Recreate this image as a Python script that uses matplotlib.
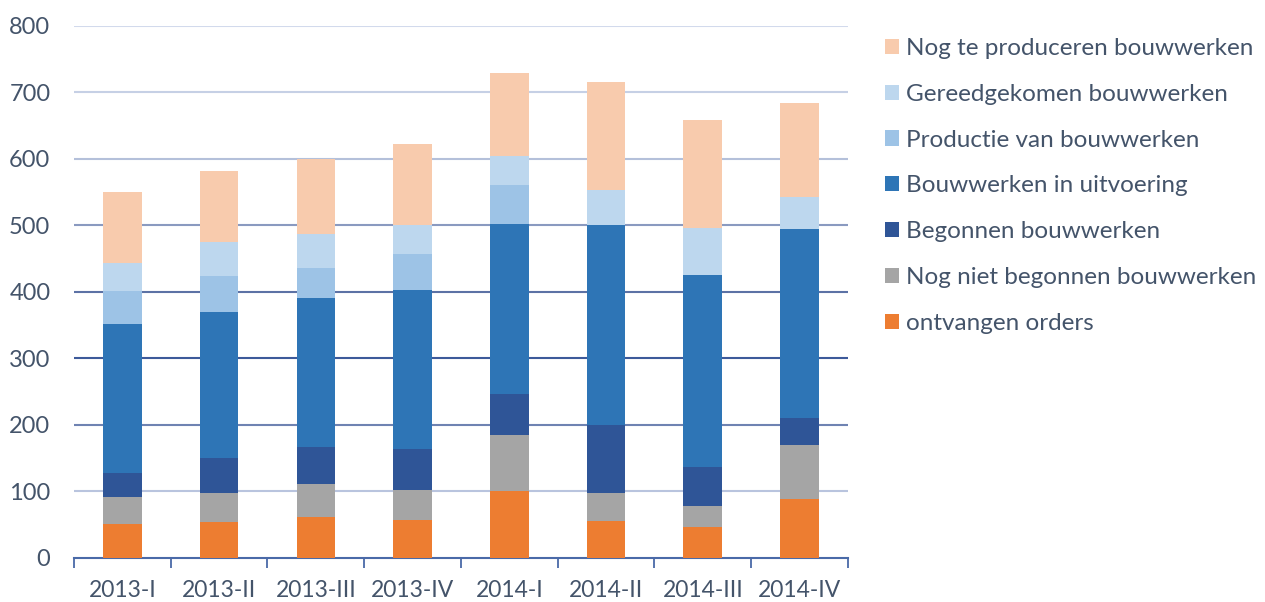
import matplotlib
matplotlib.use("Agg")
import matplotlib.pyplot as plt
import numpy as np

INK = "#44546A"
plt.rcParams.update({"font.family": ["Lato", "DejaVu Sans"], "text.color": INK,
                     "xtick.color": INK, "ytick.color": INK})

quarters = ["2013-I", "2013-II", "2013-III", "2013-IV", "2014-I", "2014-II", "2014-III", "2014-IV"]
series = ["ontvangen orders", "Nog niet begonnen bouwwerken", "Begonnen bouwwerken",
          "Bouwwerken in uitvoering", "Productie van bouwwerken", "Gereedgekomen bouwwerken",
          "Nog te produceren bouwwerken"]
ontvangen = [50, 54, 61, 56, 100, 55, 46, 88]
niet_begonnen = [42, 44, 50, 46, 84, 43, 32, 81]
begonnen = [35, 52, 56, 62, 62, 101, 58, 41]
uitvoering = [225, 220, 224, 239, 256, 302, 289, 285]
productie = [49, 54, 44, 54, 58, 0, 0, 0]
gereed = [42, 51, 52, 44, 44, 52, 71, 47]
te_produceren = [107, 107, 113, 121, 125, 162, 162, 142]
values = [ontvangen, niet_begonnen, begonnen, uitvoering, productie, gereed, te_produceren]
colors = ["#ED7D31", "#A5A5A5", "#2F5597", "#2E75B6", "#9DC3E6", "#BDD7EE", "#F8CBAD"]

yticks = [0, 100, 200, 300, 400, 500, 600, 700, 800]
grid_cols = {100: "#B9C4DE", 200: "#6F83B2", 300: "#3D5A9A", 400: "#5C72A5",
             500: "#8A9AC0", 600: "#B4C0DA", 700: "#C6D0E5", 800: "#D2DAEC"}

fig = plt.figure(figsize=(12.65, 6.02), dpi=100)
ax = fig.add_axes([0.0585, 0.0736, 0.6118, 0.8837])

x = np.arange(len(quarters))
bottom = np.zeros(len(quarters))
bars = []
for name, vals, c in zip(series, values, colors):
    b = ax.bar(x, vals, width=0.4, bottom=bottom, color=c, label=name, zorder=3)
    bars.append(b)
    bottom += np.array(vals)

ax.set_xlim(-0.5, len(quarters) - 0.5)
ax.set_ylim(0, 800)
ax.set_yticks(yticks)
ax.tick_params(axis="y", length=0, pad=17, labelsize=17)
for yv in yticks[1:]:
    ax.axhline(yv, color=grid_cols[yv], lw=1.5, zorder=1)

ax.set_xticks(x)
ax.set_xticklabels(quarters, fontsize=16.5)
ax.tick_params(axis="x", length=0, pad=16)
ax.set_xticks(np.arange(-0.5, len(quarters)), minor=True)
ax.tick_params(axis="x", which="minor", length=7, width=1.3, color="#4A6AA8")

for s in ["top", "right", "left"]:
    ax.spines[s].set_visible(False)
ax.spines["bottom"].set_color("#4A6AA8")
ax.spines["bottom"].set_linewidth(1.5)

handles = bars[::-1]
labels = series[::-1]
fig.legend(handles, labels, loc="upper left", bbox_to_anchor=(0.692, 0.953),
           frameon=False, fontsize=17.5, handlelength=0.58, handleheight=0.58,
           handletextpad=0.28, labelspacing=1.02, borderaxespad=0)

fig.savefig("out.png", facecolor="white")
